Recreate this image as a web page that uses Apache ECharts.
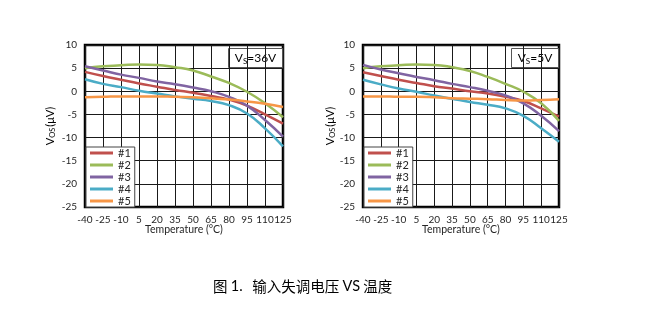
<!DOCTYPE html>
<html>
<head>
<meta charset="utf-8">
<script src="https://cdn.jsdelivr.net/npm/echarts@6/dist/echarts.min.js"></script>
<style>
html,body{margin:0;padding:0;background:#fff;}
#c{width:655px;height:312px;}
</style>
</head>
<body>
<div id="c"></div>
<script>
// Categories (temperature, °C)
const temps = ['-40','-25','-10','5','20','35','50','65','80','95','110','125'];
const seriesNames = ['#1','#2','#3','#4','#5'];
const colors = ['#C0504D','#9BBB59','#8064A2','#4BACC6','#F79646'];
const yTicks = { min: -25, max: 10, interval: 5 };

// VS = 36V
const v36_1 = [4.2, 3.3, 2.5, 1.7, 1.0, 0.3, -0.3, -1.0, -1.8, -3.1, -5.0, -7.0];
const v36_2 = [5.0, 5.4, 5.6, 5.8, 5.7, 5.2, 4.5, 3.2, 1.8, -0.1, -2.6, -5.6];
const v36_3 = [5.4, 4.5, 3.6, 2.9, 2.1, 1.5, 0.8, 0.0, -1.2, -3.1, -6.2, -9.8];
const v36_4 = [2.6, 1.6, 0.9, 0.1, -0.5, -1.1, -1.6, -2.1, -3.0, -4.8, -8.0, -11.9];
const v36_5 = [-1.3, -1.2, -1.1, -1.1, -1.1, -1.2, -1.3, -1.5, -1.8, -2.2, -2.7, -3.4];

// VS = 5V
const v5_1 = [4.1, 3.3, 2.5, 1.8, 1.1, 0.6, 0.0, -0.5, -1.2, -2.1, -3.7, -5.5];
const v5_2 = [5.0, 5.4, 5.6, 5.8, 5.7, 5.2, 4.4, 3.1, 1.6, -0.1, -2.6, -6.4];
const v5_3 = [5.7, 4.7, 3.9, 3.1, 2.4, 1.6, 0.9, 0.1, -0.9, -2.6, -5.3, -8.6];
const v5_4 = [2.5, 1.5, 0.6, -0.1, -0.9, -1.6, -2.3, -2.9, -3.7, -5.3, -8.0, -10.9];
const v5_5 = [-1.1, -1.1, -1.2, -1.2, -1.3, -1.5, -1.6, -1.7, -1.9, -2.0, -1.9, -1.7];

const data36 = [v36_1, v36_2, v36_3, v36_4, v36_5];
const data5 = [v5_1, v5_2, v5_3, v5_4, v5_5];

const FONT = 'Lato';
const TXT = '#262626';

function xAxis(gi) {
  return {
    type: 'category', gridIndex: gi, data: temps, boundaryGap: false,
    name: 'Temperature (°C)', nameLocation: 'middle', nameGap: 17, nameMoveOverlap: false,
    nameTextStyle: { fontFamily: FONT, fontSize: 10.5, color: TXT },
    axisLine: { show: false }, axisTick: { show: false },
    axisLabel: { fontFamily: FONT, fontSize: 10, color: TXT, margin: 8, interval: 0 },
    splitLine: { show: true, lineStyle: { color: '#1a1a1a', width: 1 } }
  };
}
function yAxis(gi) {
  return {
    type: 'value', gridIndex: gi, min: yTicks.min, max: yTicks.max, interval: yTicks.interval,
    axisLine: { show: false }, axisTick: { show: false },
    axisLabel: { fontFamily: FONT, fontSize: 10, color: TXT, margin: 8 },
    splitLine: { show: true, lineStyle: { color: '#1a1a1a', width: 1 } }
  };
}
function yName(x, y) {
  return {
    type: 'text', x: x, y: y, rotation: Math.PI / 2,
    style: { text: '{a|V}{s|OS}{a|(μV)}', align: 'center', verticalAlign: 'middle',
      rich: { a: { fontFamily: FONT, fontSize: 11, color: TXT }, s: { fontFamily: FONT, fontSize: 7.5, color: TXT, padding: [5, 1, 0, 0] } } }
  };
}
function legend(left) {
  return {
    orient: 'vertical', left: left, top: 147, data: seriesNames,
    icon: 'rect', itemWidth: 23, itemHeight: 3, itemGap: 0,
    padding: [0, 4, 0, 4], backgroundColor: '#fff', borderColor: '#444', borderWidth: 1,
    textStyle: { fontFamily: FONT, fontSize: 11, color: TXT, lineHeight: 12 },
    selectedMode: false
  };
}
const series = [];
[data36, data5].forEach((set, gi) => {
  set.forEach((arr, i) => {
    series.push({
      name: seriesNames[i], type: 'line', xAxisIndex: gi, yAxisIndex: gi,
      data: arr, smooth: true, showSymbol: false, symbol: 'none',
      lineStyle: { color: colors[i], width: 2.5 }, itemStyle: { color: colors[i] }
    });
  });
});

function vsBox(x, y, w, h, txt) {
  return {
    type: 'group', left: x, top: y, z: 10,
    children: [
      { type: 'rect', shape: { x: 0, y: 0, width: w, height: h }, style: { fill: '#fff', stroke: '#555', lineWidth: 1 } },
      { type: 'text', x: w / 2, y: h / 2,
        style: { text: '{a|V}{s|S}{a|=' + txt + '}', align: 'center', verticalAlign: 'middle',
          rich: { a: { fontFamily: FONT, fontSize: 12, color: TXT }, s: { fontFamily: FONT, fontSize: 8, color: TXT, padding: [6, 0, 0, 0] } } } }
    ]
  };
}

const chart = echarts.init(document.getElementById('c'), null, { renderer: 'canvas' });
chart.setOption({
  animation: false,
  backgroundColor: '#fff',
  grid: [
    { left: 85, top: 45, width: 198, height: 162, show: true, borderColor: '#000', borderWidth: 2.5, backgroundColor: 'transparent' },
    { left: 363, top: 45, width: 196, height: 162, show: true, borderColor: '#000', borderWidth: 2.5, backgroundColor: 'transparent' }
  ],
  xAxis: [xAxis(0), xAxis(1)],
  yAxis: [yAxis(0), yAxis(1)],
  legend: [legend(86), legend(364)],
  series: series,
  graphic: [
    yName(50, 126),
    yName(330, 126),
    vsBox(228, 48, 54, 19, '36V'),
    vsBox(511, 48, 47, 19, '5V'),
    { type: 'text', left: 213, top: 279,
      style: { text: '{c|图 }{b|1.}{c|   输入失调电压 }{b|VS}{c| 温度}',
        rich: {
          c: { fontFamily: 'Noto Sans CJK SC', fontSize: 14.5, color: '#000' },
          b: { fontFamily: FONT, fontSize: 14.5, color: '#1F3A6E' }
        } } }
  ]
});
</script>
</body>
</html>
